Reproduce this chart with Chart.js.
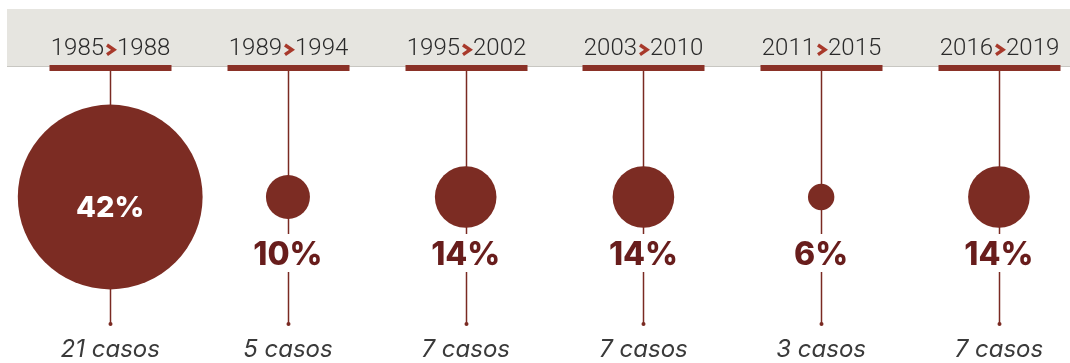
<!DOCTYPE html>
<html>
<head>
<meta charset="utf-8">
<script src="https://cdn.jsdelivr.net/npm/chart.js@4.4.1/dist/chart.umd.min.js"></script>
<style>
  html, body { margin: 0; padding: 0; background: #fff; }
  #wrap { width: 1070px; height: 363px; position: relative; }
</style>
</head>
<body>
<div id="wrap"><canvas id="chart" width="1070" height="363"></canvas></div>
<script>
const periodStart = ['1985', '1989', '1995', '2003', '2011', '2016'];
const periodEnd = ['1988', '1994', '2002', '2010', '2015', '2019'];
const percentages = [42, 10, 14, 14, 6, 14];
const cases = [21, 5, 7, 7, 3, 7];

const RED = '#7c2c23';
const BAR_RED = '#8a3127';
const LINE_RED = '#7a2a22';
const PCT_RED = '#681d1c';
const RADIUS_PER_PCT = 2.2;

const points = percentages.map((p, i) => ({ x: i, y: 0, r: p * RADIUS_PER_PCT }));

const timelinePlugin = {
  id: 'timeline',
  beforeDatasetsDraw(chart) {
    const { ctx } = chart;
    const xs = chart.scales.x;
    const ys = chart.scales.y;
    const cy = ys.getPixelForValue(0);

    ctx.save();
    // header band
    ctx.fillStyle = '#e6e5e0';
    ctx.fillRect(7, 9, chart.width - 7, 58);
    ctx.fillStyle = '#c8c7c2';
    ctx.fillRect(7, 66, chart.width - 7, 1);

    percentages.forEach((p, i) => {
      const x = Math.round(xs.getPixelForValue(i)) + 0.5;

      // stem
      ctx.strokeStyle = LINE_RED;
      ctx.lineWidth = 1.5;
      ctx.beginPath();
      ctx.moveTo(x, 71);
      ctx.lineTo(x, 324);
      ctx.stroke();

      ctx.fillStyle = LINE_RED;
      ctx.beginPath();
      ctx.arc(x, 324, 2, 0, Math.PI * 2);
      ctx.fill();

      // red bar under label
      ctx.fillStyle = BAR_RED;
      ctx.fillRect(x - 61, 65, 122, 6);

      // period label
      ctx.font = '300 24px Roboto';
      ctx.textBaseline = 'alphabetic';
      ctx.textAlign = 'left';
      const w1 = ctx.measureText(periodStart[i]).width;
      const w2 = ctx.measureText(periodEnd[i]).width;
      const chev = 9, gap = 2;
      const total = w1 + gap + chev + gap + w2;
      let tx = x - total / 2;
      ctx.fillStyle = '#2a2a2a';
      ctx.fillText(periodStart[i], tx, 55);
      tx += w1 + gap;
      ctx.strokeStyle = '#a8392b';
      ctx.lineWidth = 3.4;
      ctx.lineJoin = 'miter';
      ctx.beginPath();
      ctx.moveTo(tx + 1, 45);
      ctx.lineTo(tx + chev - 1, 49.8);
      ctx.lineTo(tx + 1, 54.6);
      ctx.stroke();
      tx += chev + gap;
      ctx.fillText(periodEnd[i], tx, 55);

      // gap in stem behind outside percent labels
      const r = p * RADIUS_PER_PCT;
      if (r < 60) {
        ctx.font = '800 32px Inter';
        const pw = ctx.measureText(p + '%').width;
        ctx.fillStyle = '#fff';
        ctx.fillRect(x - pw / 2 - 4, cy + 37, pw + 8, 38);
      }
    });
    ctx.restore();
  },
  afterDatasetsDraw(chart) {
    const { ctx } = chart;
    const xs = chart.scales.x;
    const ys = chart.scales.y;
    const cy = ys.getPixelForValue(0);

    ctx.save();
    ctx.textAlign = 'center';
    ctx.textBaseline = 'middle';
    percentages.forEach((p, i) => {
      const x = xs.getPixelForValue(i);
      const r = p * RADIUS_PER_PCT;
      if (r >= 60) {
        ctx.font = '800 29px Inter';
        ctx.fillStyle = '#ffffff';
        ctx.fillText(p + '%', x, cy + 11);
      } else {
        ctx.font = '800 32px Inter';
        ctx.fillStyle = PCT_RED;
        ctx.fillText(p + '%', x, cy + 58);
      }
      ctx.font = 'italic 400 24px Inter';
      ctx.fillStyle = '#3a3a3a';
      ctx.fillText(cases[i] + ' casos', x, 350);
    });
    ctx.restore();
  }
};

new Chart(document.getElementById('chart').getContext('2d'), {
  type: 'bubble',
  data: {
    datasets: [{
      data: points,
      backgroundColor: RED,
      borderWidth: 0,
      hoverBorderWidth: 0,
      clip: false,
    }],
  },
  options: {
    responsive: false,
    animation: false,
    layout: { autoPadding: false, padding: { top: 31, bottom: 0, left: 0, right: 0 } },
    plugins: {
      legend: { display: false },
      tooltip: { enabled: false },
    },
    scales: {
      x: { type: 'linear', min: -0.62, max: 5.4, display: false },
      y: { type: 'linear', min: -1, max: 1, display: false },
    },
  },
  plugins: [timelinePlugin],
});
</script>
</body>
</html>
